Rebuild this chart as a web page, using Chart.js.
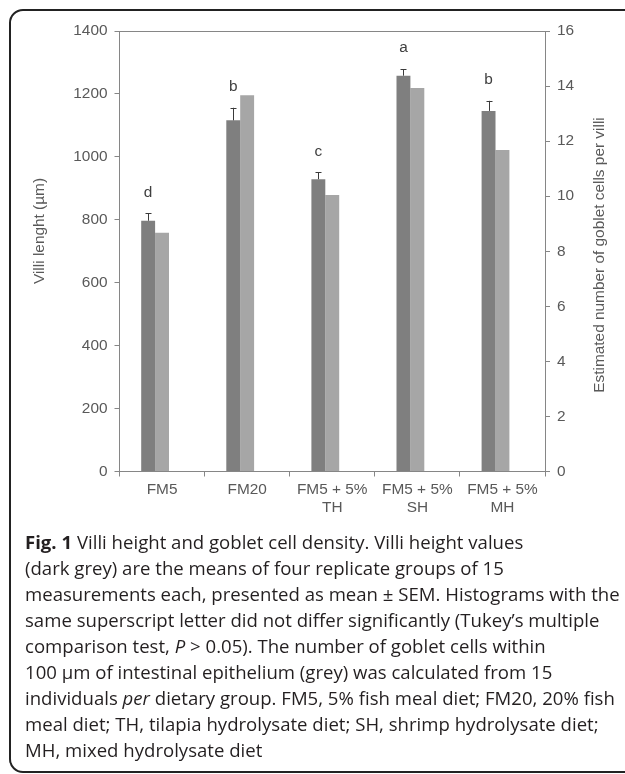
<!DOCTYPE html>
<html><head><meta charset="utf-8">
<script src="https://cdn.jsdelivr.net/npm/chart.js@4"></script>
<style>
html,body{margin:0;padding:0;background:#fff;width:625px;height:774px;overflow:hidden;position:relative}
#frame{position:absolute;left:9px;top:9px;width:650px;height:764px;border:2px solid #222;border-radius:14px;box-sizing:border-box}
#wrap{position:absolute;left:0;top:0;width:625px;height:530px}
#caption{position:absolute;left:25px;top:529px;font-family:"Open Sans","Noto Sans",sans-serif;font-size:17.5px;color:#231f20}
.ln{position:absolute;left:0;white-space:nowrap;transform-origin:0 50%;line-height:26px;height:26px}
</style></head>
<body>
<div id="frame"></div>
<div id="wrap"><canvas id="c" width="625" height="530"></canvas></div>
<div id="caption">
<div class="ln" style="top:0px"><b>Fig. 1</b> Villi height and goblet cell density. Villi height values</div>
<div class="ln" style="top:26px">(dark grey) are the means of four replicate groups of 15</div>
<div class="ln" style="top:52px">measurements each, presented as mean ± SEM. Histograms with the</div>
<div class="ln" style="top:78px">same superscript letter did not differ significantly (Tukey’s multiple</div>
<div class="ln" style="top:104px">comparison test, <i>P</i> &gt; 0.05). The number of goblet cells within</div>
<div class="ln" style="top:130px">100 µm of intestinal epithelium (grey) was calculated from 15</div>
<div class="ln" style="top:156px">individuals <i>per</i> dietary group. FM5, 5% fish meal diet; FM20, 20% fish</div>
<div class="ln" style="top:182px">meal diet; TH, tilapia hydrolysate diet; SH, shrimp hydrolysate diet;</div>
<div class="ln" style="top:208px">MH, mixed hydrolysate diet</div>
</div>
<script>
const categories = ['FM5', 'FM20', ['FM5 + 5%', 'TH'], ['FM5 + 5%', 'SH'], ['FM5 + 5%', 'MH']];
const villiHeight = [797, 1116, 929, 1258, 1146];
const villiSEM = [23, 40, 22, 21, 32];
const gobletCells = [8.67, 13.67, 10.04, 13.93, 11.68];
const letters = ['d', 'b', 'c', 'a', 'b'];
const spacer = [null, null, null, null, null];
const leftTitle = 'Villi lenght (µm)';
const rightTitle = 'Estimated number of goblet cells per villi';

const FONT = 'Liberation Sans';
const FS = 15.4;
const AXIS = '#868686';
const TXT = '#595959';

const extras = {
  id: 'extras',
  afterDatasetsDraw(chart) {
    const {ctx, chartArea, scales} = chart;
    ctx.save();
    ctx.strokeStyle = AXIS; ctx.lineWidth = 1;
    ctx.beginPath();
    ctx.moveTo(chartArea.left, Math.round(chartArea.top) + 0.5);
    ctx.lineTo(chartArea.right, Math.round(chartArea.top) + 0.5);
    ctx.stroke();
    const meta = chart.getDatasetMeta(0);
    ctx.font = FS + 'px "' + FONT + '"';
    ctx.textAlign = 'center'; ctx.textBaseline = 'middle';
    meta.data.forEach((bar, i) => {
      const yTop = scales.y.getPixelForValue(villiHeight[i] + villiSEM[i]);
      const x = Math.round(bar.x) + 0.5;
      ctx.strokeStyle = '#3a3a3a'; ctx.lineWidth = 1;
      ctx.beginPath();
      ctx.moveTo(x, bar.y); ctx.lineTo(x, yTop);
      ctx.moveTo(x - 3, Math.round(yTop) + 0.5); ctx.lineTo(x + 3, Math.round(yTop) + 0.5);
      ctx.stroke();
      ctx.fillStyle = '#404040';
      ctx.fillText(letters[i], bar.x, yTop - 21);
    });
    ctx.fillStyle = TXT;
    ctx.translate(40, 231); ctx.rotate(-Math.PI / 2);
    ctx.fillText(leftTitle, 0, 0);
    ctx.setTransform(1, 0, 0, 1, 0, 0);
    ctx.scale(chart.currentDevicePixelRatio, chart.currentDevicePixelRatio);
    ctx.translate(600, 255); ctx.rotate(-Math.PI / 2);
    ctx.fillText(rightTitle, 0, 0);
    ctx.restore();
  }
};

const tickFont = {family: FONT, size: FS};
const plain = v => String(v);
new Chart(document.getElementById('c'), {
  type: 'bar',
  data: {
    labels: categories,
    datasets: [
      {label: 'Villi height', data: villiHeight, backgroundColor: '#7f7f7f', yAxisID: 'y', barPercentage: 1, categoryPercentage: 0.49},
      {label: 'Goblet cells', data: gobletCells, backgroundColor: '#a6a6a6', yAxisID: 'y2', barPercentage: 1, categoryPercentage: 0.49},
      {label: '', data: spacer, yAxisID: 'y', barPercentage: 1, categoryPercentage: 0.49}
    ]
  },
  options: {
    responsive: false,
    animation: false,
    layout: {padding: {top: 31, left: 0, right: 0, bottom: 0}},
    plugins: {legend: {display: false}, tooltip: {enabled: false}},
    scales: {
      x: {
        grid: {display: true, drawOnChartArea: false, tickLength: 5, color: AXIS, offset: true},
        border: {color: AXIS},
        ticks: {color: TXT, font: tickFont, padding: 4, maxRotation: 0, autoSkip: false},
        afterFit: s => { s.height = 58.5; }
      },
      y: {
        position: 'left', min: 0, max: 1400,
        grid: {drawOnChartArea: false, tickLength: 5, color: AXIS},
        border: {color: AXIS},
        ticks: {stepSize: 200, color: TXT, font: tickFont, padding: 7, callback: plain},
        afterFit: s => { s.width = 119.5; }
      },
      y2: {
        position: 'right', min: 0, max: 16,
        grid: {drawOnChartArea: false, tickLength: 5, color: AXIS},
        border: {color: AXIS},
        ticks: {stepSize: 2, color: TXT, font: tickFont, padding: 7, callback: plain},
        afterFit: s => { s.width = 80; }
      }
    }
  },
  plugins: [extras]
});

const targets = [512, 480, 587, 571, 524, 530, 587, 567, 237];
const lines = Array.from(document.querySelectorAll('.ln'));
let sumW = 0, sumT = 0;
lines.forEach((el, i) => { sumW += el.getBoundingClientRect().width; sumT += targets[i]; });
const k = sumT / sumW;
lines.forEach(el => { el.style.transform = 'scaleX(' + k + ')'; });
</script>
</body></html>
